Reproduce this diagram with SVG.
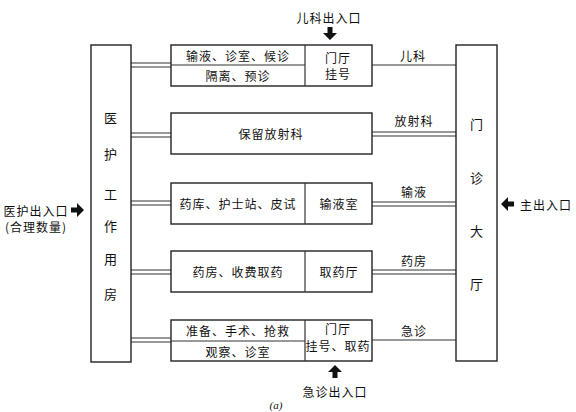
<svg xmlns="http://www.w3.org/2000/svg" width="576" height="412" viewBox="0 0 576 412">
<style>
.b{fill:#fff;stroke:#222;stroke-width:1.4}
.l{stroke:#333;stroke-width:1.2;fill:none}
.t{font-family:"Noto Sans CJK SC","Noto Sans CJK TC",sans-serif;font-size:12px;fill:#111;text-anchor:middle;dominant-baseline:central;letter-spacing:1px}
.v{font-size:13px}
.a{fill:#111}
</style>
<defs>
<path id="arr" d="M-2.5,0 h5 v6 h4.5 l-7,7 l-7,-7 h4.5z"/>
</defs>
<g id="connectors">
<path class="l" d="M131,63 H171 M131,67 H171"/>
<path class="l" d="M131,133 H171 M131,137 H171"/>
<path class="l" d="M131,201 H171 M131,205 H171"/>
<path class="l" d="M131,270 H171 M131,274 H171"/>
<path class="l" d="M131,338 H171 M131,342 H171"/>
<path class="l" d="M372,65 H456"/>
<path class="l" d="M372,132 H456 M372,136 H456"/>
<path class="l" d="M372,202 H456 M372,206 H456"/>
<path class="l" d="M372,270 H456 M372,274 H456"/>
<path class="l" d="M372,340 H456"/>
<text class="t" x="413" y="55">儿科</text>
<text class="t" x="414" y="120">放射科</text>
<text class="t" x="414" y="191">输液</text>
<text class="t" x="414" y="260">药房</text>
<text class="t" x="414" y="330">急诊</text>
</g>
<g id="staff">
<rect class="b" x="91" y="45" width="40" height="317"/>
<text class="t v" x="111" y="117">医</text>
<text class="t v" x="111" y="153">护</text>
<text class="t v" x="111" y="193">工</text>
<text class="t v" x="111" y="225">作</text>
<text class="t v" x="111" y="258">用</text>
<text class="t v" x="111" y="293">房</text>
</g>
<g id="hall">
<rect class="b" x="456" y="45" width="41" height="316"/>
<text class="t v" x="477" y="123">门</text>
<text class="t v" x="477" y="177">诊</text>
<text class="t v" x="477" y="230">大</text>
<text class="t v" x="477" y="283">厅</text>
</g>
<g id="pediatrics">
<rect class="b" x="171" y="45" width="201" height="41"/>
<path class="l" d="M305,45 V86 M171,65 H305"/>
<text class="t" x="238" y="55">输液、诊室、候诊</text>
<text class="t" x="238" y="75">隔离、预诊</text>
<text class="t" x="338" y="57">门厅</text>
<text class="t" x="338" y="73">挂号</text>
</g>
<g id="radiology">
<rect class="b" x="171" y="113" width="201" height="41"/>
<text class="t" x="271" y="133">保留放射科</text>
</g>
<g id="infusion">
<rect class="b" x="171" y="183" width="201" height="41"/>
<path class="l" d="M305,183 V224"/>
<text class="t" x="238" y="203">药库、护士站、皮试</text>
<text class="t" x="339" y="203">输液室</text>
</g>
<g id="pharmacy">
<rect class="b" x="171" y="251" width="201" height="41"/>
<path class="l" d="M305,251 V292"/>
<text class="t" x="238" y="271">药房、收费取药</text>
<text class="t" x="339" y="271">取药厅</text>
</g>
<g id="emergency">
<rect class="b" x="171" y="320" width="201" height="41"/>
<path class="l" d="M305,320 V361 M171,341 H305"/>
<text class="t" x="238" y="330">准备、手术、抢救</text>
<text class="t" x="238" y="351">观察、诊室</text>
<text class="t" x="338" y="328">门厅</text>
<text class="t" x="338" y="345">挂号、取药</text>
</g>
<g id="entrances">
<text class="t" x="329" y="17">儿科出入口</text>
<use href="#arr" class="a" transform="translate(330,27)"/>
<text class="t" x="335" y="391">急诊出入口</text>
<use href="#arr" class="a" transform="translate(335,378) rotate(180)"/>
<text class="t" x="36" y="210">医护出入口</text>
<text class="t" x="36" y="226">(合理数量)</text>
<use href="#arr" class="a" transform="translate(71,210) rotate(-90)"/>
<text class="t" x="546" y="204">主出入口</text>
<use href="#arr" class="a" transform="translate(514,204) rotate(90)"/>
<text x="276" y="409" font-family="Liberation Serif,serif" font-size="11" font-style="italic" text-anchor="middle" fill="#111">(a)</text>
</g>
</svg>
